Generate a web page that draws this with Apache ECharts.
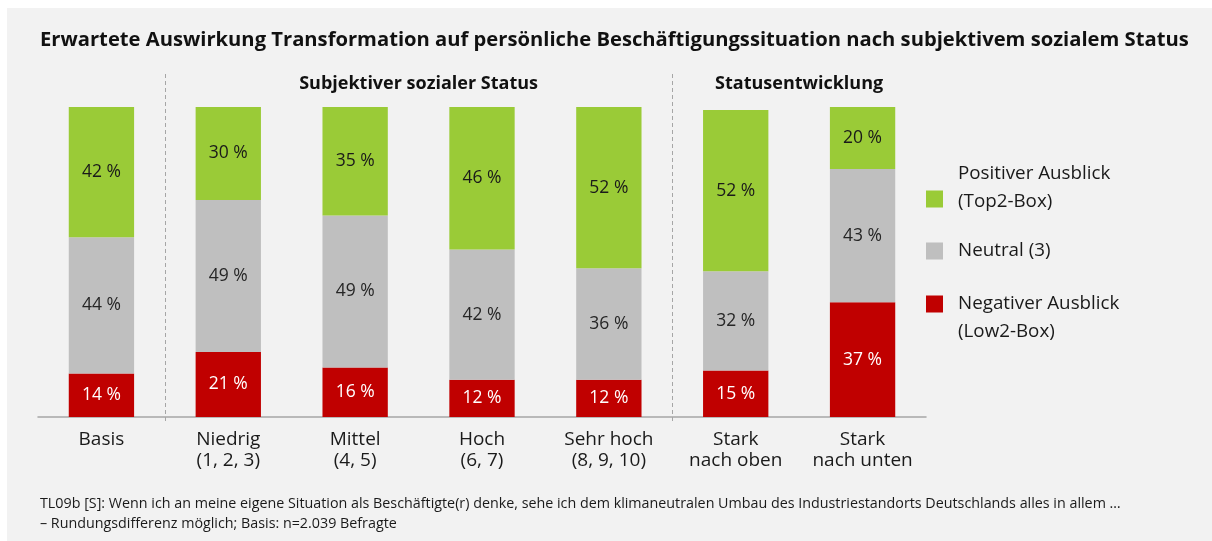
<!DOCTYPE html>
<html>
<head>
<meta charset="utf-8">
<script src="https://cdn.jsdelivr.net/npm/echarts@6/dist/echarts.min.js"></script>
<style>
  html, body { margin: 0; padding: 0; background: #fff; }
  .panel { position: absolute; left: 7px; top: 8px; right: 0; bottom: 0; background: #f2f2f2; }
  #chart { position: absolute; left: 0; top: 0; width: 1212px; height: 541px; }
</style>
</head>
<body>
<div class="panel"></div>
<div id="chart"></div>
<script>
const categories = ['Basis', 'Niedrig\n(1, 2, 3)', 'Mittel\n(4, 5)', 'Hoch\n(6, 7)', 'Sehr hoch\n(8, 9, 10)', 'Stark\nnach oben', 'Stark\nnach unten']
const negative = [14, 21, 16, 12, 12, 15, 37]
const neutral = [44, 49, 49, 42, 36, 32, 43]
const positive = [42, 30, 35, 46, 52, 52, 20]
const seriesNames = ['Negativer Ausblick\n(Low2-Box)', 'Neutral (3)', 'Positiver Ausblick\n(Top2-Box)']
const groups = [
  { name: 'Subjektiver sozialer Status', from: 1, to: 4 },
  { name: 'Statusentwicklung', from: 5, to: 6 }
]
const title = 'Erwartete Auswirkung Transformation auf persönliche Beschäftigungssituation nach subjektivem sozialem Status'
const footnote = [
  'TL09b [S]: Wenn ich an meine eigene Situation als Beschäftigte(r) denke, sehe ich dem klimaneutralen Umbau des Industriestandorts Deutschlands alles in allem …',
  '– Rundungsdifferenz möglich; Basis: n=2.039 Befragte'
]

const FONT = "'Open Sans', sans-serif"
const colors = ['#c00000', '#bfbfbf', '#9acb37']
const labelColors = ['#ffffff', '#262626', '#1a1a1a']

const mChart = echarts.init(document.getElementById('chart'))

const makeSeries = (name, data, i) => ({
  name,
  type: 'bar',
  stack: 'total',
  barWidth: '51.5%',
  data,
  itemStyle: { color: colors[i] },
  label: {
    show: true,
    position: 'inside',
    formatter: p => p.value + ' %',
    color: labelColors[i],
    fontFamily: FONT,
    fontSize: 17.5
  }
})

const options = {
  animation: false,
  textStyle: { fontFamily: FONT },
  title: {
    text: title,
    left: 35,
    top: 25,
    textStyle: { fontFamily: FONT, fontWeight: 'bold', fontSize: 20.2, color: '#111' }
  },
  grid: { left: 38, right: 286, top: 107, bottom: 124 },
  xAxis: {
    type: 'category',
    data: categories,
    axisLine: { lineStyle: { color: '#a6a6a6', width: 1.5 } },
    axisTick: { length: 5, lineStyle: { color: '#a6a6a6' } },
    axisLabel: {
      margin: 12,
      fontFamily: FONT,
      fontSize: 19,
      lineHeight: 21,
      color: '#1a1a1a',
      interval: 0
    }
  },
  yAxis: { type: 'value', min: 0, max: 100, show: false },
  series: [
    makeSeries(seriesNames[0], negative, 0),
    makeSeries(seriesNames[1], neutral, 1),
    makeSeries(seriesNames[2], positive, 2)
  ]
}
mChart.setOption(options)

// separators, group headers, legend and footnote
const px = i => mChart.convertToPixel({ xAxisIndex: 0 }, categories[i])
const graphic = []
groups.forEach(g => {
  const sepX = Math.round((px(g.from - 1) + px(g.from)) / 2) + 0.5
  graphic.push({
    type: 'line',
    shape: { x1: sepX, y1: 74, x2: sepX, y2: 422 },
    style: { stroke: '#a6a6a6', lineWidth: 1, lineDash: [4, 3] }
  })
  graphic.push({
    type: 'text',
    x: (px(g.from) + px(g.to)) / 2,
    y: 84,
    style: {
      text: g.name,
      font: 'bold 18px ' + FONT,
      fill: '#111',
      align: 'center',
      verticalAlign: 'middle'
    }
  })
})

const legendItems = [
  { name: seriesNames[2], color: colors[2], textY: 188, boxY: 199 },
  { name: seriesNames[1], color: colors[1], textY: 251, boxY: 251 },
  { name: seriesNames[0], color: colors[0], textY: 318, boxY: 304 }
]
legendItems.forEach(item => {
  graphic.push({
    type: 'rect',
    shape: { x: 926, y: item.boxY - 8.5, width: 17, height: 17 },
    style: { fill: item.color }
  })
  graphic.push({
    type: 'text',
    x: 958,
    y: item.textY,
    style: {
      text: item.name,
      font: '18.8px ' + FONT,
      lineHeight: 28,
      fill: '#1a1a1a',
      align: 'left',
      verticalAlign: 'middle'
    }
  })
})

graphic.push({
  type: 'text',
  x: 40,
  y: 514,
  style: {
    text: footnote.join('\n'),
    font: '14.3px ' + FONT,
    lineHeight: 20,
    fill: '#1a1a1a',
    align: 'left',
    verticalAlign: 'middle'
  }
})

mChart.setOption({ graphic })
</script>
</body>
</html>
